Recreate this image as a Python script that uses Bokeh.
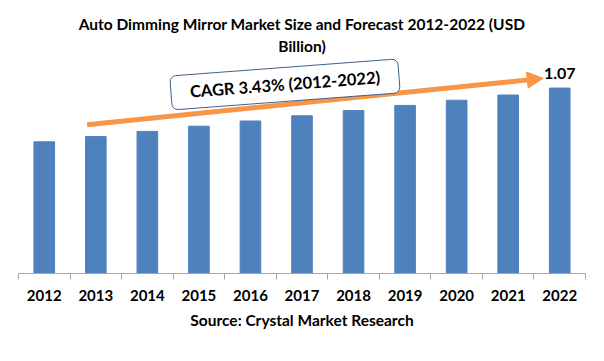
from bokeh.plotting import figure
from bokeh.models import Arrow, NormalHead, Label, Title, FixedTicker, Range1d
from bokeh.core.properties import value
from bokeh.embed import file_html
from bokeh.resources import INLINE

years = [2012, 2013, 2014, 2015, 2016, 2017, 2018, 2019, 2020, 2021, 2022]
values = [0.76, 0.79, 0.82, 0.85, 0.88, 0.91, 0.94, 0.97, 1.00, 1.03, 1.07]
tick_labels = [str(y) for y in years]
title_line1 = "Auto Dimming Mirror Market Size and Forecast 2012-2022 (USD"
title_line2 = "Billion)"
source_text = "Source: Crystal Market Research"
cagr_text = "CAGR 3.43% (2012-2022)"

FONT = "Lato"
BAR = "#4F81BD"
ORANGE = "#F79646"

p = figure(width=596, height=353, x_range=Range1d(2011.5, 2022.5), y_range=Range1d(0, 1.258),
           output_backend="svg", toolbar_location=None,
           min_border_left=18, min_border_right=11, min_border_top=55, min_border_bottom=80)

p.title.text = title_line1
p.title.align = "center"
p.title.text_font = FONT
p.title.text_font_size = "15.5px"
p.title.text_font_style = "bold"
p.title.text_color = "black"
p.title.standoff = 2
p.add_layout(Title(text=title_line2, align="center", text_font=FONT, text_font_size="15.5px",
                   text_font_style="bold", text_color="black", standoff=2), "above")

p.vbar(x=years, top=values, width=0.4, color=BAR)

p.yaxis.visible = False
p.xgrid.visible = False
p.ygrid.visible = False
p.outline_line_color = None

ax = p.xaxis[0]
ax.ticker = FixedTicker(ticks=years, minor_ticks=[y - 0.5 for y in years] + [years[-1] + 0.4999])
ax.major_label_overrides = {y: t for y, t in zip(years, tick_labels)}
ax.major_tick_in = 0
ax.major_tick_out = 0
ax.minor_tick_in = 0
ax.minor_tick_out = 6
ax.minor_tick_line_color = "#A6A6A6"
ax.axis_line_color = "#A6A6A6"
ax.major_label_standoff = 10
ax.major_label_text_font = FONT
ax.major_label_text_font_size = "15px"
ax.major_label_text_font_style = "bold"
ax.major_label_text_color = "black"
ax.axis_label = source_text
ax.axis_label_text_font = FONT
ax.axis_label_text_font_size = "15.5px"
ax.axis_label_text_font_style = "bold"
ax.axis_label_text_color = "black"
ax.axis_label_standoff = 7

p.add_layout(Arrow(end=NormalHead(size=16, fill_color=ORANGE, line_color=ORANGE),
                   x_start=2012.83, y_start=0.859, x_end=2021.68, y_end=1.126,
                   line_color=ORANGE, line_width=5))

p.add_layout(Label(x=2016.67, y=1.091, text=cagr_text, angle=4.3, angle_units="deg",
                   text_align="center", text_baseline="middle", text_font=FONT,
                   text_font_size="16.5px", text_font_style="bold", text_color="black",
                   background_fill_color="white", border_line_color="#41608A",
                   border_line_width=1, border_radius=6, padding=(19, 7)))

p.text(x=[years[-1]], y=[values[-1]], text=[f"{values[-1]:.2f}"], y_offset=-9,
       text_align="center", text_baseline="bottom", text_font=value(FONT),
       text_font_size="16px", text_font_style="bold", text_color="black")

open("out.html", "w").write(file_html(p, INLINE))
